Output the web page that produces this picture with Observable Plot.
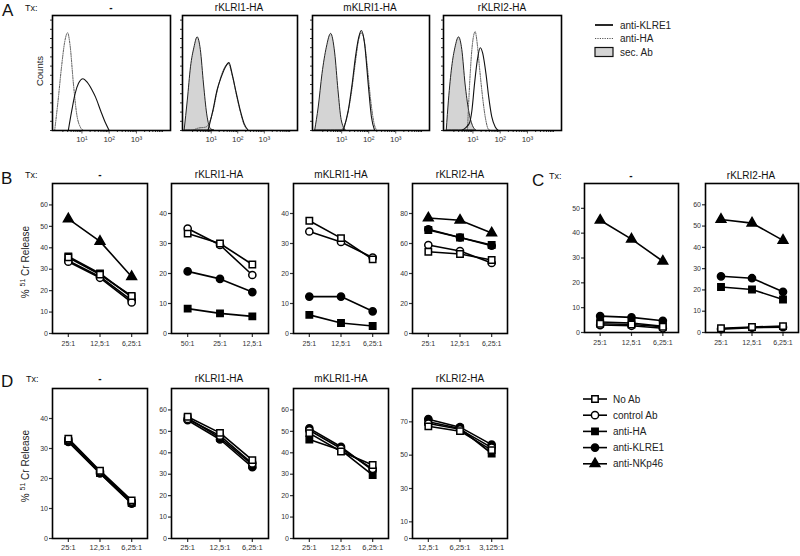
<!DOCTYPE html>
<html><head><meta charset="utf-8">
<script src="https://cdn.jsdelivr.net/npm/d3@7"></script>
<script src="https://cdn.jsdelivr.net/npm/@observablehq/plot@0.6"></script>
<style>
body{margin:0;background:#fff;}
#root{position:relative;width:800px;height:556px;overflow:hidden;font-family:"Liberation Sans",Arial,sans-serif;}
#root > svg{position:absolute;}
</style></head><body><div id="root"></div>
<script>
// ---------- data ----------
const series = ["No Ab","control Ab","anti-HA","anti-KLRE1","anti-NKp46"];
const seriesSymbol = ["square","circle","square","circle","triangle"];
const seriesFill = ["white","white","black","black","black"];

const ratiosStd = ["25:1","12,5:1","6,25:1"];
const ratiosB2 = ["50:1","25:1","12,5:1"];
const ratiosD4 = ["12,5:1","6,25:1","3,125:1"];

const txTitles = ["-","rKLRI1-HA","mKLRI1-HA","rKLRI2-HA"];
const txTitlesC = ["-","rKLRI2-HA"];

// values per series: [No Ab, control Ab, anti-HA, anti-KLRE1, anti-NKp46]
const B1 = [[35.5,27.5,17.5],[33.5,26,14.5],[36,28,17],[34,26.5,15.5],[53.5,43,26.5]];
const B2 = [[33.3,30,23],[35,29.5,19.5],[8.3,6.7,5.7],[20.7,18.2,13.8],null];
const B3 = [[37.6,31.8,24.7],[34,30.5,25.3],[6.2,3.5,2.5],[12.3,12.3,7.4],null];
const B4 = [[54.5,53,49],[59,55,47],[69,64,59],[69.5,64,58.5],[77,75.5,67]];
const C1 = [[3.5,3.2,2.3],[3,2.7,1.7],[4.2,3.8,2.5],[6.6,6.1,4.7],[45.2,37.6,28.7]];
const C2 = [[2,2.6,3],[1.6,2.3,2.5],[21.4,20.2,15.5],[26.4,25.5,19.1],[53.1,51.4,43.3]];
const D1 = [[33.3,22.6,12.7],[33,22.3,12.3],[32.5,21.8,11.8],[32.2,21.7,11.6],null];
const D2 = [[56.8,49.3,36.6],[55.8,48,35],[56.2,47,34.5],[55.2,46.2,33.3],null];
const D3 = [[49.2,40.6,34.3],[50.5,42,32.5],[46.2,41.2,29.6],[51.4,42.8,31.8],null];
const D4 = [[67.3,64.4,53],[69,65.5,54.5],[70,66,51],[71.6,66.8,56.3],null];

// histograms: [log10 fluorescence, relative counts]
const A1_klre1 = [[0.5,0],[0.625,17],[0.75,32],[0.875,41],[1.04,45],[1.19,42],[1.375,35],[1.5,29],[1.69,17],[1.875,6],[2.0,0]];
const A1_ha = [[0.0,0],[0.125,26],[0.25,55],[0.375,78],[0.475,85],[0.56,75],[0.69,40],[0.81,14],[0.94,3],[1.06,0]];
const A2_sec = [[0,0],[0.12,26],[0.24,55],[0.37,72],[0.49,81],[0.61,70],[0.73,40],[0.85,14],[1.0,1],[1.12,0]];
const A2_klre1 = [[0.88,0],[1.06,17],[1.22,35],[1.37,46],[1.51,54],[1.67,59],[1.79,49],[1.95,32],[2.1,17],[2.24,6],[2.4,0]];
const A2_ha = [[0.3,0],[0.5,2],[0.8,3],[0.95,8],[1.08,18],[1.22,34],[1.37,47],[1.51,55],[1.65,58],[1.79,48],[1.95,31],[2.1,16],[2.24,5],[2.4,0]];
const A3_sec = [[0.02,0],[0.15,20],[0.29,49],[0.45,72],[0.61,84],[0.76,67],[0.88,35],[1.0,9],[1.15,0]];
const A3_klre1 = [[1.06,0],[1.24,17],[1.39,41],[1.51,64],[1.63,81],[1.73,87],[1.85,75],[1.98,41],[2.1,12],[2.22,0]];
const A3_ha = [[1.0,0],[1.2,12],[1.36,33],[1.5,58],[1.62,78],[1.72,85],[1.82,80],[1.95,55],[2.08,25],[2.2,6],[2.3,0]];
const A4_sec = [[0.04,0],[0.12,26],[0.24,55],[0.36,72],[0.49,81],[0.61,70],[0.73,40],[0.86,17],[1.0,4],[1.12,0]];
const A4_ha = [[0.8,0],[0.88,41],[0.96,70],[1.04,84],[1.08,86],[1.16,75],[1.24,55],[1.34,32],[1.45,12],[1.57,1],[1.65,0]];
const A4_klre1 = [[0.58,0],[0.76,3],[0.88,7],[0.96,17],[1.06,41],[1.16,61],[1.27,72],[1.36,67],[1.48,49],[1.58,29],[1.69,12],[1.82,3],[1.93,0]];

const histTickLabels = ["10¹","10²","10³"];
const histTicks = [1,2,3];

// ---------- drawing ----------
const root = document.getElementById("root");
const FONT = '"Liberation Sans", Arial, sans-serif';

function place(svg, left, top) {
  svg.style.left = left + "px";
  svg.style.top = top + "px";
  root.appendChild(svg);
}

function linePanel({left, top, w, h, yMax, yTicks, labels, values, xFont = 7, xPad = 3.5}) {
  const ml = 30, mr = 3, mt = 3, mb = 22;
  const rows = [];
  values.forEach((vals, s) => { if (vals) vals.forEach((v, i) => rows.push({s, name: series[s], i, v})); });
  const marks = [
    Plot.axisY({ticks: yTicks, tickSize: 3, tickPadding: 1.5, fontSize: 7, tickFormat: d => String(d), color: "#333", strokeWidth: 1.2, label: null}),
    Plot.axisX({ticks: [0,1,2], tickFormat: i => labels[i], tickSize: 4, tickPadding: xPad, fontSize: xFont, color: "#333", strokeWidth: 1.2, label: null}),
    Plot.line(rows, {x: "i", y: "v", z: "s", stroke: "black", strokeWidth: 1.6})
  ];
  [4,3,2,1,0].forEach(s => {
    const d = rows.filter(r => r.s === s);
    if (!d.length) return;
    marks.push(Plot.dot(d, {x: "i", y: "v", symbol: seriesSymbol[s], fill: seriesFill[s],
      stroke: "black", strokeWidth: 1.5, r: 3.6}));
  });
  marks.push(Plot.frame({stroke: "black", strokeWidth: 1.6}));
  const svg = Plot.plot({
    width: w + ml + mr, height: h + mt + mb,
    marginLeft: ml, marginRight: mr, marginTop: mt, marginBottom: mb,
    style: {fontFamily: FONT, background: "transparent", overflow: "visible"},
    x: {domain: [-0.5, 2.5], label: null},
    y: {domain: [0, yMax], label: null},
    marks
  });
  place(svg, left - ml, top - mt);
}

const minorTicks = [];
for (let n = 0; n <= 3; n++) for (let k = 2; k <= 9; k++) minorTicks.push(n + Math.log10(k));

function histPanel({left, top, w, h, sec, klre1, ha}) {
  const ml = 6, mr = 3, mt = 3, mb = 20;
  const toRows = arr => arr.map(([x, y]) => ({x, y}));
  const marks = [
    Plot.axisY({ticks: d3.range(0, 101, 8), tickSize: 2, tickFormat: () => "", strokeWidth: 0.8, label: null}),
    Plot.axisX({ticks: minorTicks, tickSize: 2, tickFormat: () => "", strokeWidth: 0.8, label: null}),
    Plot.axisX({ticks: histTicks, tickSize: 3.5, tickPadding: 2, fontSize: 8, tickFormat: d => histTickLabels[d - 1], color: "#333", strokeWidth: 0.8, label: null})
  ];
  if (sec) marks.push(Plot.areaY(toRows(sec), {x: "x", y: "y", fill: "#d4d4d4", stroke: "#222", strokeWidth: 1, curve: "monotone-x"}));
  if (ha) marks.push(Plot.line(toRows(ha), {x: "x", y: "y", stroke: "#555", strokeWidth: 1, strokeDasharray: "1.2,1.2", curve: "monotone-x"}));
  if (klre1) marks.push(Plot.line(toRows(klre1), {x: "x", y: "y", stroke: "#111", strokeWidth: 1.1, curve: "monotone-x"}));
  marks.push(Plot.frame({stroke: "black", strokeWidth: 1.6}));
  const svg = Plot.plot({
    width: w + ml + mr, height: h + mt + mb,
    marginLeft: ml, marginRight: mr, marginTop: mt, marginBottom: mb,
    style: {fontFamily: FONT, background: "transparent", overflow: "visible"},
    x: {domain: [-0.08, 4.25], label: null},
    y: {domain: [0, 100], label: null},
    marks
  });
  place(svg, left - ml, top - mt);
}

// Panel A
histPanel({left: 52, top: 15, w: 118, h: 115, klre1: A1_klre1, ha: A1_ha});
histPanel({left: 182, top: 15, w: 115, h: 115, sec: A2_sec, klre1: A2_klre1, ha: A2_ha});
histPanel({left: 312, top: 15, w: 117, h: 115, sec: A3_sec, klre1: A3_klre1, ha: A3_ha});
histPanel({left: 443, top: 15, w: 118, h: 115, sec: A4_sec, klre1: A4_klre1, ha: A4_ha});

// Panel B
linePanel({left: 52, top: 183, w: 95, h: 150, yMax: 70, yTicks: d3.range(0, 61, 10), labels: ratiosStd, values: B1});
linePanel({left: 171, top: 183, w: 97, h: 150, yMax: 50, yTicks: d3.range(0, 41, 10), labels: ratiosB2, values: B2});
linePanel({left: 293, top: 183, w: 95, h: 150, yMax: 50, yTicks: d3.range(0, 41, 10), labels: ratiosStd, values: B3});
linePanel({left: 412, top: 183, w: 95, h: 150, yMax: 100, yTicks: d3.range(0, 81, 20), labels: ratiosStd, values: B4});
// Panel C
linePanel({left: 584, top: 183, w: 94, h: 149, yMax: 60, yTicks: d3.range(0, 51, 10), labels: ratiosStd, values: C1});
linePanel({left: 705, top: 183, w: 93, h: 149, yMax: 70, yTicks: d3.range(0, 61, 10), labels: ratiosStd, values: C2});
// Panel D
linePanel({left: 52, top: 388, w: 95, h: 150, yMax: 50, yTicks: d3.range(0, 41, 10), labels: ratiosStd, values: D1, xFont: 7.5, xPad: 2});
linePanel({left: 171, top: 388, w: 97, h: 150, yMax: 70, yTicks: d3.range(0, 61, 10), labels: ratiosStd, values: D2, xFont: 7.5, xPad: 2});
linePanel({left: 293, top: 388, w: 95, h: 150, yMax: 70, yTicks: d3.range(0, 61, 10), labels: ratiosStd, values: D3, xFont: 7.5, xPad: 2});
linePanel({left: 412, top: 388, w: 95, h: 150, yMax: 90, yTicks: [0,10,30,50,70], labels: ratiosD4, values: D4, xFont: 7.5, xPad: 2});

// ---------- annotations (titles, letters, legends) ----------
const ov = d3.select(root).append("svg")
  .attr("width", 800).attr("height", 556)
  .style("left", "0px").style("top", "0px")
  .style("font-family", FONT).style("pointer-events", "none");

function txt(x, y, s, size, anchor = "start", extra = {}) {
  const t = ov.append("text").attr("x", x).attr("y", y).attr("font-size", size)
    .attr("text-anchor", anchor).attr("fill", extra.fill || "#111").text(s);
  if (extra.weight) t.attr("font-weight", extra.weight);
  return t;
}

// panel letters
txt(2, 16, "A", 17);
txt(1, 184, "B", 17);
txt(532, 186, "C", 17);
txt(1, 387, "D", 17);
// Tx labels
txt(25, 11, "Tx:", 9);
txt(25, 178, "Tx:", 9);
txt(549, 179, "Tx:", 9);
txt(26, 382, "Tx:", 9);
// titles
const aCenters = [111, 239, 370, 502];
const bCenters = [100, 219, 341, 460];
const cCenters = [631, 751];
txTitles.forEach((t, i) => txt(aCenters[i], 11, t, 10, "middle", t === "-" ? {weight: "bold"} : {}));
txTitles.forEach((t, i) => txt(bCenters[i], 178, t, 10, "middle", t === "-" ? {weight: "bold"} : {}));
txTitlesC.forEach((t, i) => txt(cCenters[i], 179, t, 10, "middle", t === "-" ? {weight: "bold"} : {}));
txTitles.forEach((t, i) => txt(bCenters[i], 382, t, 10, "middle", t === "-" ? {weight: "bold"} : {}));

// y axis titles
ov.append("text").attr("transform", "translate(43,71) rotate(-90)").attr("text-anchor", "middle")
  .attr("font-size", 9.5).attr("fill", "#222").text("Counts");
function crTitle(cx, cy) {
  const t = ov.append("text").attr("transform", `translate(${cx},${cy}) rotate(-90)`).attr("text-anchor", "middle")
    .attr("font-size", 10).attr("fill", "#222");
  t.append("tspan").text("% ");
  t.append("tspan").attr("font-size", 7).attr("dy", -4).text("51");
  t.append("tspan").attr("dy", 4).text(" Cr Release");
}
crTitle(29, 262);
crTitle(29, 466);

// legend A
const legA = [["anti-KLRE1", "solid"], ["anti-HA", "dotted"], ["sec. Ab", "fill"]];
legA.forEach(([name, kind], i) => {
  const y = 25 + i * 13.5;
  if (kind === "fill") {
    ov.append("rect").attr("x", 595).attr("y", y - 4.5).attr("width", 18).attr("height", 9)
      .attr("fill", "#d4d4d4").attr("stroke", "#111").attr("stroke-width", 1.2);
  } else {
    ov.append("line").attr("x1", 595).attr("x2", 613).attr("y1", y).attr("y2", y)
      .attr("stroke", kind === "solid" ? "#111" : "#555").attr("stroke-width", kind === "solid" ? 1.8 : 1.1)
      .attr("stroke-dasharray", kind === "solid" ? null : "1.2,1.2");
  }
  txt(620, y + 3.5, name, 10, "start", {fill: "#222"});
});

// legend D
const symMap = {square: d3.symbolSquare, circle: d3.symbolCircle, triangle: d3.symbolTriangle};
series.forEach((name, i) => {
  const y = 399 + i * 16.2;
  ov.append("line").attr("x1", 583).attr("x2", 607).attr("y1", y).attr("y2", y)
    .attr("stroke", "black").attr("stroke-width", 1.6);
  ov.append("path").attr("transform", `translate(595,${y})`)
    .attr("d", d3.symbol(symMap[seriesSymbol[i]], Math.PI * 3.6 * 3.6)())
    .attr("fill", seriesFill[i]).attr("stroke", "black").attr("stroke-width", 1.5);
  txt(613, y + 3.5, name, 10, "start", {fill: "#222"});
});
</script>
</body></html>
